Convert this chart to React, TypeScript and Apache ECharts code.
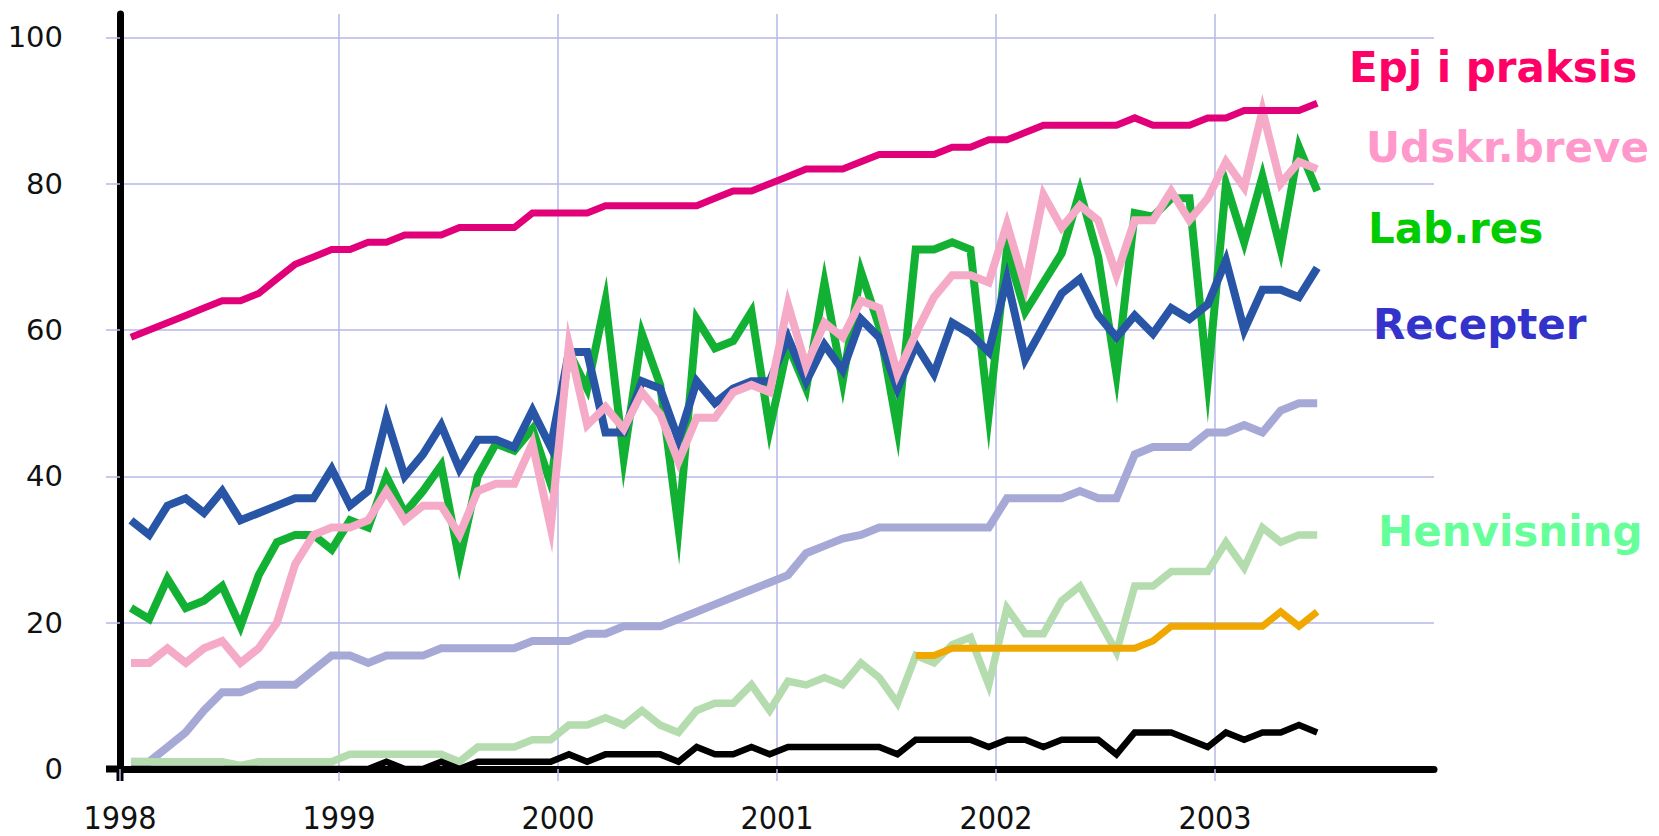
import React, { useEffect, useRef } from "react";
import * as echarts from "echarts";

const yearTicks = [1998, 1999, 2000, 2001, 2002, 2003];
const valueTicks = [0, 20, 40, 60, 80, 100];
const gridValueTicks = [20, 40, 60, 80, 100];
const firstYear = 1998;
const monthOffset = 0.6;

// Monthly values, Jan 1998 .. Jun 2003
const epj = [59, 60, 61, 62, 63, 64, 64, 65, 67, 69, 70, 71, 71, 72, 72, 73, 73, 73, 74,
  74, 74, 74, 76, 76, 76, 76, 77, 77, 77, 77, 77, 77, 78, 79, 79, 80, 81,
  82, 82, 82, 83, 84, 84, 84, 84, 85, 85, 86, 86, 87, 88, 88, 88, 88, 88, 89,
  88, 88, 88, 89, 89, 90, 90, 90, 90, 91];
const recepter = [34, 32, 36, 37, 35, 38, 34, 35, 36, 37, 37, 41, 36, 38, 48, 40, 43, 47, 41,
  45, 45, 44, 49, 44, 57, 57, 46, 46, 53, 52, 45, 53, 50, 52, 53, 53, 59,
  53, 58, 54.5, 61.5, 59, 52, 58, 54, 61, 59.5, 57, 67, 56, 60.5, 65, 67, 62, 59, 62,
  59.5, 63, 61.5, 63.5, 69.5, 60, 65.5, 65.5, 64.5, 68.5];
const labres = [22, 20.5, 26, 22, 23, 25, 19.5, 26.5, 31, 32, 32, 30, 34, 33, 40, 35, 38, 41.5, 28.5,
  40, 44.5, 43.5, 46.5, 39, 57, 52, 64, 42.5, 59.5, 52.5, 33, 61.5, 57.5, 58.5, 62.5, 46.5, 58,
  52, 66.5, 53, 68, 60.5, 46.5, 71, 71, 72, 71, 48.5, 71, 62.5, 66.5, 70.5, 79, 70, 54, 76,
  75.5, 78, 78, 53, 80, 72, 81, 71, 85, 79];
const udskr = [14.5, 14.5, 16.5, 14.5, 16.5, 17.5, 14.5, 16.5, 20, 28, 32, 33, 33, 34, 38, 34, 36, 36, 32,
  38, 39, 39, 44.5, 33, 58, 47, 49.5, 46.5, 51.5, 48.5, 42, 48, 48, 51.5, 52.5, 51.5, 63.5,
  55, 61, 59, 64, 63, 54, 59.5, 64.5, 67.5, 67.5, 66.5, 74.5, 66, 78.5, 74, 77, 75, 67.5, 75,
  75, 79, 75, 78, 83, 79.5, 90, 80, 83, 82];
const lavender = [1, 1, 3, 5, 8, 10.5, 10.5, 11.5, 11.5, 11.5, 13.5, 15.5, 15.5, 14.5, 15.5, 15.5, 15.5, 16.5, 16.5,
  16.5, 16.5, 16.5, 17.5, 17.5, 17.5, 18.5, 18.5, 19.5, 19.5, 19.5, 20.5, 21.5, 22.5, 23.5, 24.5, 25.5, 26.5,
  29.5, 30.5, 31.5, 32, 33, 33, 33, 33, 33, 33, 33, 37, 37, 37, 37, 38, 37, 37, 43,
  44, 44, 44, 46, 46, 47, 46, 49, 50, 50];
const henvisning = [1, 1, 1, 1, 1, 1, 0.5, 1, 1, 1, 1, 1, 2, 2, 2, 2, 2, 2, 1,
  3, 3, 3, 4, 4, 6, 6, 7, 6, 8, 6, 5, 8, 9, 9, 11.5, 8, 12,
  11.5, 12.5, 11.5, 14.5, 12.5, 9, 15.5, 14.5, 17, 18, 11.5, 22, 18.5, 18.5, 23, 25, 20.5, 16, 25,
  25, 27, 27, 27, 31, 27.5, 33, 31, 32, 32];
const orangeStartMonth = 43;
const orange = [15.5, 15.5, 16.5, 16.5, 16.5, 16.5, 16.5, 16.5, 16.5, 16.5, 16.5, 16.5, 16.5,
  17.5, 19.5, 19.5, 19.5, 19.5, 19.5, 19.5, 21.5, 19.5, 21.5];
const black = [0, 0, 0, 0, 0, 0, 0, 0, 0, 0, 0, 0, 0, 0, 1, 0, 0, 1, 0,
  1, 1, 1, 1, 1, 2, 1, 2, 2, 2, 2, 1, 3, 2, 2, 3, 2, 3,
  3, 3, 3, 3, 3, 2, 4, 4, 4, 4, 3, 4, 4, 3, 4, 4, 4, 2, 5,
  5, 5, 4, 3, 5, 4, 5, 5, 6, 5];

const labelNames = ["Epj i praksis", "Udskr.breve", "Lab.res", "Recepter", "Henvisning"];
const labelColors = ["#ff0066", "#ff99cc", "#00cc00", "#3333cc", "#66ff99"];
const labelPos = [[1349, 67], [1366, 147], [1368, 228], [1373, 324], [1378, 531]];

const gridColor = "#b4b8e8";

function toPairs(values: number[], start = 0) {
  return values.map((v, k) => [firstYear + (start + k + monthOffset) / 12, v]);
}

function lineSeries(name: string, values: number[], color: string, width: number, start = 0) {
  return {
    type: "line",
    name,
    data: toPairs(values, start),
    showSymbol: false,
    symbol: "none",
    lineStyle: { color, width, join: "miter", miterLimit: 20, cap: "butt" },
    emphasis: { disabled: true },
    silent: true,
  };
}

export default function App() {
  const ref = useRef<HTMLDivElement>(null);
  useEffect(() => {
    document.body.style.margin = "0";
    const chart = echarts.init(ref.current!, undefined, { renderer: "svg" });
    chart.setOption({
      animation: false,
      backgroundColor: "#ffffff",
      grid: { left: 120, right: 225, top: 14, bottom: 67, containLabel: false },
      xAxis: {
        type: "value",
        min: 1998,
        max: 2004,
        interval: 1,
        axisLine: { show: true, onZero: true, lineStyle: { color: "#000", width: 7 } },
        axisTick: { show: true, length: 12, customValues: yearTicks, lineStyle: { color: gridColor, width: 1.5 } },
        axisLabel: {
          customValues: yearTicks,
          formatter: (v: number) => String(v),
          margin: 33,
          fontSize: 32,
          fontFamily: "'Liberation Sans Narrow', 'DejaVu Sans Condensed', 'Roboto Condensed', sans-serif",
          color: "#111",
        },
        splitLine: { show: true, lineStyle: { color: gridColor, width: 1.5 } },
      },
      yAxis: {
        type: "value",
        min: 0,
        max: 103.2,
        interval: 20,
        axisLine: { show: true, lineStyle: { color: "#000", width: 7 } },
        axisTick: { show: true, length: 14, customValues: gridValueTicks, lineStyle: { color: gridColor, width: 1.5 } },
        axisLabel: {
          customValues: valueTicks,
          margin: 57,
          fontSize: 29,
          fontFamily: "'DejaVu Sans', Verdana, sans-serif",
          color: "#111",
        },
        splitLine: { show: true, lineStyle: { color: gridColor, width: 1.5 } },
      },
      series: [
        lineSeries("Lavender", lavender, "#a6a9d6", 8),
        lineSeries("Henvisning", henvisning, "#b4dcae", 7.5),
        lineSeries("Orange", orange, "#f0a800", 7),
        lineSeries("Black", black, "#000000", 6.5),
        lineSeries("Lab.res", labres, "#13b133", 8),
        lineSeries("Recepter", recepter, "#2855a6", 8),
        lineSeries("Udskr.breve", udskr, "#f5abc7", 8),
        lineSeries("Epj i praksis", epj, "#e2007a", 7),
      ].map((s, k) => (k === 2 ? { ...s, data: toPairs(orange, orangeStartMonth) } : s)),
    });

    const origin = chart.convertToPixel({ gridIndex: 0 }, [1998, 0]) as number[];
    const graphics: any[] = labelNames.map((name, k) => ({
      type: "text",
      x: labelPos[k][0],
      y: labelPos[k][1],
      style: {
        text: name,
        fill: labelColors[k],
        font: "bold 42px 'DejaVu Sans', Verdana, sans-serif",
        textAlign: "left",
        textVerticalAlign: "middle",
      },
      silent: true,
    }));
    graphics.push({
      type: "line",
      shape: { x1: origin[0] - 14, y1: origin[1], x2: origin[0], y2: origin[1] },
      style: { stroke: "#000", lineWidth: 7 },
      silent: true,
    });
    graphics.push({
      type: "line",
      shape: { x1: origin[0], y1: origin[1], x2: origin[0], y2: origin[1] + 12 },
      style: { stroke: "#000", lineWidth: 7 },
      silent: true,
    });
    chart.setOption({ graphic: graphics });

    return () => chart.dispose();
  }, []);
  return (
    <div
      ref={ref}
      style={{ position: "fixed", left: 0, top: 0, width: 1659, height: 836, background: "#fff" }}
    />
  );
}
